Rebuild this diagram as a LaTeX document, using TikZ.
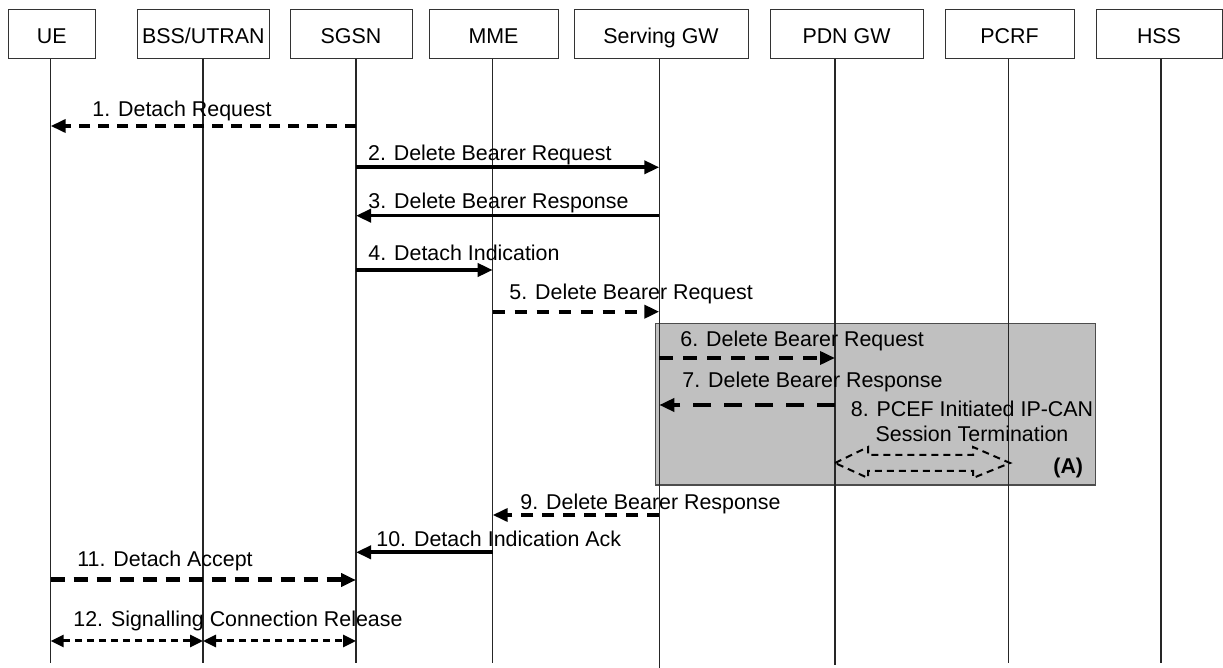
\documentclass[tikz,border=0pt]{standalone}
\usepackage{fontspec}
\setmainfont{Liberation Sans}
\usepackage{xcolor}
\usepackage{tikz}
\usetikzlibrary{arrows.meta}
\definecolor{boxgray}{RGB}{192,192,192}

\begin{document}
\begin{tikzpicture}[
  x=0.5pt, y=-0.5pt,
  font=\fontsize{10.7}{12.5}\selectfont,
  actor/.style={draw=black!80, line width=0.5pt, minimum height=24.5pt, inner sep=0pt, text height=9.7pt, text depth=0pt},
  life/.style={draw=black!85, line width=0.6pt},
  msg/.style={-{Triangle[length=7.5pt,width=6.5pt]}, line width=1.8pt},
  dmsg/.style={msg, dash pattern=on 5.5pt off 4pt},
  both/.style={{Triangle[length=6.5pt,width=6pt]}-{Triangle[length=6.5pt,width=6pt]}, line width=1.5pt, dash pattern=on 3.5pt off 2.5pt},
  pcef/.style={draw, line width=1pt, line join=miter, dash pattern=on 3.5pt off 2.5pt},
  lab/.style={anchor=base west, inner sep=0pt},
]
\useasboundingbox (0,0) rectangle (1223,668);

\node[actor, minimum width=43.3pt] (ue)   at (51.7,33.8)  {UE};
\node[actor, minimum width=65.7pt] (bss)  at (203.4,33.8) {BSS/UTRAN};
\node[actor, minimum width=61pt]   (sgsn) at (351,33.8)   {SGSN};
\node[actor, minimum width=64.5pt] (mme)  at (493.5,33.8) {MME};
\node[actor, minimum width=87pt]   (sgw)  at (661,33.8)   {Serving GW};
\node[actor, minimum width=76.5pt] (pdn)  at (846.5,33.8) {PDN GW};
\node[actor, minimum width=64.5pt] (pcrf) at (1009.5,33.8) {PCRF};
\node[actor, minimum width=63pt]   (hss)  at (1159,33.8)  {HSS};

\draw[draw=black!70, fill=boxgray, line width=0.6pt] (655.7,323.3) rectangle (1095.7,485);

\foreach \n/\x/\y in {ue/50.7/663, bss/203/663, sgsn/356/663, mme/492.7/663,
                      sgw/659.3/668, pdn/835/665, pcrf/1008.3/663, hss/1161/663} {
  \coordinate (\n-top) at (\n.south -| \x,0);
  \coordinate (\n-end) at (\x,\y);
  \draw[life] (\n-top) -- (\n-end);
}

\draw[dmsg] (sgsn-top |- 0,126) -- (ue-top |- 0,126);
\node[lab] (m1) at (92,117) {1. Detach Request};
\draw[msg] (sgsn-top |- 0,167.3) -- (sgw-top |- 0,167.3);
\node[lab] (m2) at (367.7,161) {2. Delete Bearer Request};
\draw[msg] (sgw-top |- 0,215.7) -- (sgsn-top |- 0,215.7);
\node[lab] (m3) at (368,208.3) {3. Delete Bearer Response};
\draw[msg] (sgsn-top |- 0,270) -- (mme-top |- 0,270);
\node[lab] (m4) at (368,261) {4. Detach Indication};
\draw[dmsg, line width=2pt, dash pattern=on 6pt off 5pt] (mme-top |- 0,311.7) -- (sgw-top |- 0,311.7);
\node[lab] (m5) at (509,300) {5. Delete Bearer Request};
\draw[dmsg, dash pattern=on 7pt off 5pt] (sgw-top |- 0,358) -- (pdn-top |- 0,358);
\node[lab] (m6) at (680,346.7) {6. Delete Bearer Request};
\draw[dmsg, dash pattern=on 9pt off 6.5pt] (pdn-top |- 0,405) -- (sgw-top |- 0,405);
\node[lab] (m7) at (682,388) {7. Delete Bearer Response};
\node[align=center, inner sep=0pt] (m8) at (972,421.5) {8. PCEF Initiated IP-CAN\\Session Termination};
\draw[pcef] (pdn-top |- 0,463) -- ++(33,-16) -- ++(0,8) -- ++(105,0) -- ++(0,-8) -- ++(37,16)
  -- ++(-37,15) -- ++(0,-7) -- ++(-105,0) -- ++(0,7) -- cycle;
\node[lab, font=\fontsize{10.7}{12.5}\selectfont\bfseries] (mA) at (1053,474) {(A)};
\draw[dmsg, dash pattern=on 6pt off 4.5pt] (sgw-top |- 0,515) -- (mme-top |- 0,515);
\node[lab] (m9) at (520,509.5) {9. Delete Bearer Response};
\draw[msg] (mme-top |- 0,552.3) -- (sgsn-top |- 0,552.3);
\node[lab] (m10) at (376,546.7) {10. Detach Indication Ack};
\draw[dmsg, line width=2.5pt, dash pattern=on 7pt off 4.5pt] (ue-top |- 0,580) -- (sgsn-top |- 0,580);
\node[lab] (m11) at (77,566.7) {11. Detach Accept};
\draw[both] (ue-top |- 0,641) -- (bss-top |- 0,641);
\draw[both] (bss-top |- 0,641) -- (sgsn-top |- 0,641);
\node[lab] (m12) at (73,626.7) {12. Signalling Connection Release};
\end{tikzpicture}
\end{document}
